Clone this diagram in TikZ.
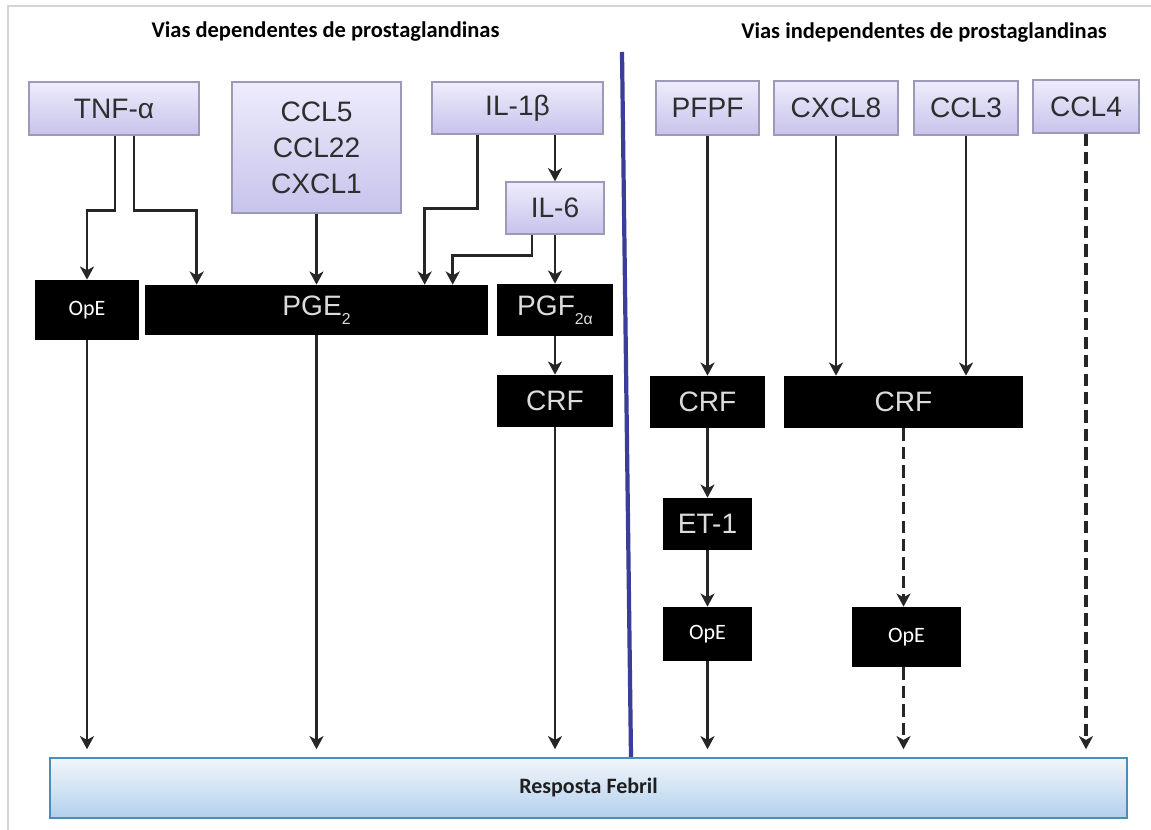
\documentclass[tikz,border=0pt]{standalone}
\usepackage{fontspec}
\setmainfont{Liberation Sans}
\newfontfamily\carlito{Carlito}
\usetikzlibrary{arrows.meta,calc}
\definecolor{lavtop}{HTML}{EEECFC}
\definecolor{lavbot}{HTML}{C7C3EC}
\definecolor{lavbd}{HTML}{9D9AB9}
\definecolor{boxtxt}{HTML}{2E2E2E}
\definecolor{blktxt}{HTML}{DCDCDC}
\definecolor{arcol}{HTML}{262626}
\definecolor{febtop}{HTML}{F2F6FB}
\definecolor{febbot}{HTML}{B2D0EC}
\definecolor{febbd}{HTML}{4A8CBB}
\definecolor{divcol}{HTML}{3B3E98}
\definecolor{framecol}{HTML}{D4D4D4}
\newcommand\sbs[1]{\raisebox{-0.6ex}{\fontsize{9}{9}\selectfont#1}}
\tikzset{
  cyt/.style={draw=lavbd,line width=.8pt,top color=lavtop,bottom color=lavbot,
              text=boxtxt,font=\fontsize{16}{20.4}\selectfont,align=center,inner sep=0pt},
  blk/.style={fill=black,text=blktxt,font=\fontsize{16}{19}\selectfont,inner sep=0pt},
  ope/.style={fill=black,text=white,font=\carlito\fontsize{12.5}{14}\selectfont,inner sep=0pt},
  feb/.style={draw=febbd,line width=1pt,top color=febtop,bottom color=febbot,
              text=black!88,font=\carlito\bfseries\fontsize{12.5}{14}\selectfont,inner sep=0pt},
  hdr/.style={font=\carlito\bfseries\fontsize{12.8}{15}\selectfont},
  ar/.style ={-{Stealth[length=7.5pt,width=8pt,inset=2.2pt]},line width=1.6pt,draw=arcol},
  dar/.style={ar,line width=2pt,dash pattern=on 7pt off 3.5pt},
  tofeb/.style={shorten >=4.5pt},
}
\begin{document}
\begin{tikzpicture}[x=0.02cm,y=-0.02cm]
  \useasboundingbox (0,0) rectangle (1151,830);
  \draw[framecol,line width=1.2pt] (8,830) -- (8,6) -- (1151,6);
  % headers
  \node[hdr] (hleft) at (325.5,32) {Vias dependentes de prostaglandinas};
  \node[hdr] (hright) at (924,33) {Vias independentes de prostaglandinas};
  \draw[divcol,line width=2.4pt] (622,52) -- (631,758);
  % top row
  \node[cyt,minimum width=3.4cm,minimum height=1.06cm] (tnf) at (114,108.5) {TNF-α};
  \node[cyt,minimum width=3.38cm,minimum height=2.62cm] (ccl) at (316.5,147.5) {CCL5\\CCL22\\CXCL1};
  \node[cyt,minimum width=3.42cm,minimum height=1.04cm] (ilb) at (517.5,108) {IL-1β};
  \node[cyt,minimum width=1.96cm,minimum height=1.04cm] (il6) at (555,208) {IL-6};
  \node[cyt,minimum width=2.06cm,minimum height=1.08cm] (pfpf) at (707.5,108) {PFPF};
  \node[cyt,minimum width=2.48cm,minimum height=1.08cm] (cxcl8) at (836,108) {CXCL8};
  \node[cyt,minimum width=2.08cm,minimum height=1.08cm] (ccl3) at (966,108) {CCL3};
  \node[cyt,minimum width=2.12cm,minimum height=1.06cm] (ccl4) at (1086,106.5) {CCL4};
  % mediators
  \node[ope,minimum width=2.08cm,minimum height=1.2cm] (ope1) at (87,310) {OpE};
  \node[blk,minimum width=6.86cm,minimum height=1cm] (pge) at (316.5,310) {PGE\sbs{2}};
  \node[blk,minimum width=2.32cm,minimum height=1.04cm] (pgf) at (555,310) {PGF\sbs{2α}};
  \node[blk,minimum width=2.32cm,minimum height=1.04cm] (crfa) at (555,401) {CRF};
  \node[blk,minimum width=2.3cm,minimum height=1.04cm] (crfb) at (707.5,402) {CRF};
  \node[blk,minimum width=4.78cm,minimum height=1.04cm] (crfc) at (903.5,402) {CRF};
  \node[blk,minimum width=1.78cm,minimum height=1.04cm] (et1) at (707.5,524) {ET-1};
  \node[ope,minimum width=1.78cm,minimum height=1.08cm] (ope2) at (707.5,634) {OpE};
  \node[ope,minimum width=2.18cm,minimum height=1.2cm] (ope3) at (906.5,637) {OpE};
  \node[feb,minimum width=21.54cm,minimum height=1.2cm] (febril) at (588.5,788) {Resposta Febril};
  % prostaglandin dependent
  \draw[ar] ($(tnf.south)+(1,0)$) -- ++(0,75) -| (ope1.north);
  \draw[ar] ($(tnf.south)+(20,0)$) -- ++(0,75) -| ($(pge.north west)+(52,0)$);
  \draw[ar] (ccl) -- (pge);
  \draw[ar] ($(ilb.south)+(-40,0)$) -- ++(0,74) -| ($(pge.north west)+(280,0)$);
  \draw[ar] (il6.north |- ilb.south) -- (il6.north);
  \draw[ar] ($(il6.south)+(-23,0)$) -- ++(0,21) -| ($(pge.north west)+(308,0)$);
  \draw[ar] (il6) -- (pgf);
  \draw[ar] (pgf) -- (crfa);
  \draw[ar,tofeb] (ope1.south) -- (ope1.south |- febril.north);
  \draw[ar,tofeb] (pge.south) -- (pge.south |- febril.north);
  \draw[ar,tofeb] (crfa.south) -- (crfa.south |- febril.north);
  % prostaglandin independent
  \draw[ar] (pfpf) -- (crfb);
  \draw[ar] (crfb) -- (et1);
  \draw[ar] (et1) -- (ope2);
  \draw[ar,tofeb] (ope2.south) -- (ope2.south |- febril.north);
  \draw[ar] (cxcl8.south) -- (cxcl8.south |- crfc.north);
  \draw[ar] (ccl3.south) -- (ccl3.south |- crfc.north);
  \draw[dar] (crfc.south) -- (crfc.south |- ope3.north);
  \draw[dar,tofeb] (crfc.south |- ope3.south) -- (crfc.south |- febril.north);
  \draw[dar,tofeb] (ccl4.south) -- (ccl4.south |- febril.north);
\end{tikzpicture}
\end{document}
